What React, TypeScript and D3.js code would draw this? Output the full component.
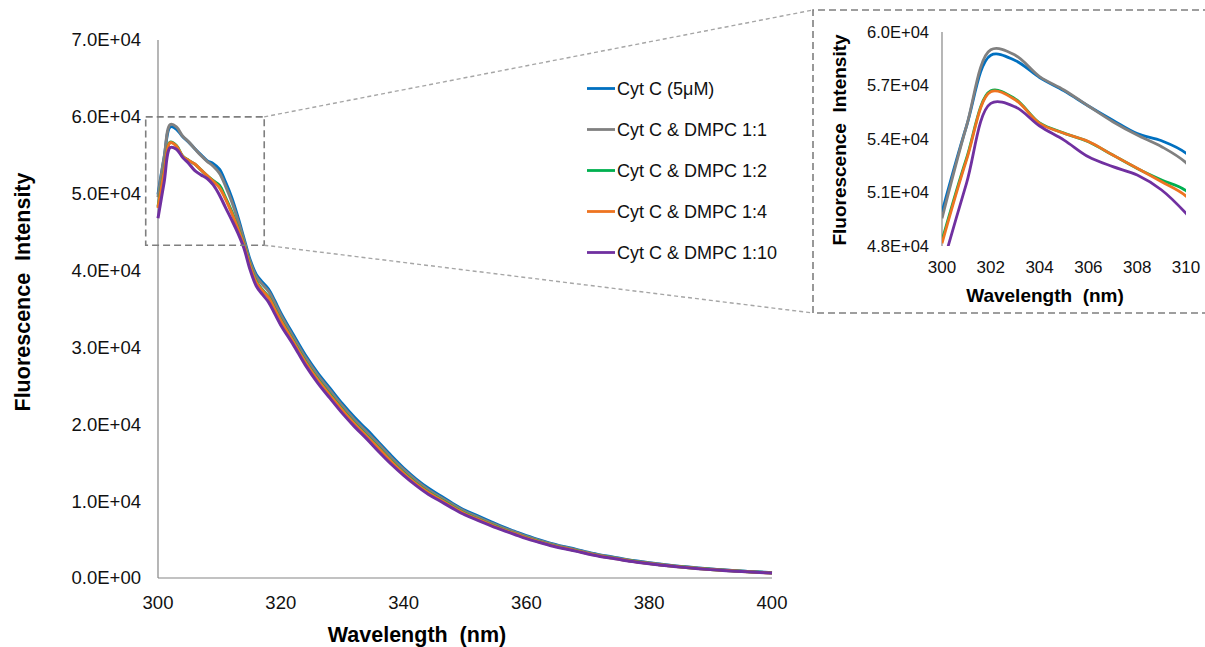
import React from "react";
import * as d3 from "d3";

const wavelengths = [
  300, 301, 302, 303, 304, 305, 306, 307, 308, 309, 310, 311, 312, 313, 314, 315, 316, 317, 318, 319, 320,
  322, 324, 326, 328, 330, 332, 334, 336, 338, 340, 342, 344, 346, 348, 350, 352, 354, 356, 358, 360,
  362, 364, 366, 368, 370, 372, 374, 376, 378, 380, 382, 384, 386, 388, 390, 392, 394, 396, 398, 400,
];

const cytC = [
  49900, 54700, 58700, 58400, 57450, 56700, 55850, 55050, 54300, 53900, 53200, 51500, 49500, 47000, 44200, 41400, 39500, 38500, 37600, 36100, 34500,
  31700, 29000, 26700, 24700, 22700, 20900, 19300, 17600, 15900, 14300, 12900, 11700, 10700, 9700, 8800, 8100, 7400, 6700, 6100, 5500,
  5000, 4500, 4100, 3750, 3350, 3000, 2750, 2450, 2200, 1980, 1780, 1600, 1450, 1300, 1180, 1060, 950, 860, 770, 690,
];
const dmpc11 = [
  49550, 54700, 59000, 58700, 57500, 56750, 55850, 54970, 54220, 53570, 52670, 51000, 49000, 46600, 43900, 41100, 39200, 38200, 37300, 35800, 34200,
  31400, 28700, 26400, 24400, 22400, 20600, 19000, 17350, 15650, 14100, 12700, 11500, 10500, 9550, 8650, 7950, 7250, 6580, 6000, 5400,
  4900, 4420, 4030, 3680, 3300, 2950, 2700, 2400, 2160, 1950, 1750, 1570, 1420, 1280, 1160, 1040, 935, 845, 760, 680,
];
const dmpc12 = [
  48300, 52900, 56700, 56250, 54900, 54330, 53850, 53100, 52350, 51700, 51100, 49500, 47700, 45600, 43400, 40700, 38600, 37500, 36600, 35100, 33600,
  30900, 28200, 25900, 23900, 21950, 20150, 18550, 16900, 15250, 13700, 12350, 11200, 10250, 9300, 8400, 7720, 7050, 6400, 5820, 5250,
  4770, 4300, 3920, 3580, 3200, 2870, 2630, 2340, 2100, 1890, 1700, 1530, 1380, 1240, 1120, 1010, 905, 820, 735, 660,
];
const dmpc14 = [
  48150, 52800, 56650, 56200, 54880, 54320, 53860, 53100, 52360, 51600, 50800, 49300, 47500, 45500, 43300, 40600, 38500, 37400, 36500, 35000, 33500,
  30800, 28100, 25800, 23800, 21850, 20050, 18450, 16800, 15150, 13620, 12280, 11130, 10180, 9240, 8350, 7680, 7010, 6360, 5790, 5220,
  4740, 4280, 3900, 3560, 3180, 2850, 2610, 2330, 2090, 1880, 1690, 1520, 1370, 1230, 1110, 1000, 900, 815, 730, 655,
];
const dmpc110 = [
  46800, 51500, 56000, 55800, 54730, 53940, 53000, 52450, 51980, 51140, 49830, 48200, 46600, 44900, 42900, 40100, 38000, 36900, 35900, 34400, 32900,
  30400, 27700, 25400, 23400, 21450, 19700, 18100, 16400, 14800, 13350, 12050, 10900, 9980, 9060, 8200, 7540, 6880, 6250, 5690, 5120,
  4650, 4200, 3830, 3500, 3130, 2800, 2570, 2290, 2060, 1850, 1660, 1500, 1350, 1210, 1090, 985, 885, 800, 720, 640,
];

const seriesNames = ["Cyt C (5μM)", "Cyt C & DMPC 1:1", "Cyt C & DMPC 1:2", "Cyt C & DMPC 1:4", "Cyt C & DMPC 1:10"];
const seriesValues = [cytC, dmpc11, dmpc12, dmpc14, dmpc110];
const seriesColors = ["#0070C0", "#808080", "#00B050", "#EE7421", "#7030A0"];

const mainYTicks = [0, 10000, 20000, 30000, 40000, 50000, 60000, 70000];
const mainXTicks = [300, 320, 340, 360, 380, 400];
const insetYTicks = [48000, 51000, 54000, 57000, 60000];
const insetXTicks = [300, 302, 304, 306, 308, 310];

// Excel style "6.0E+04"
const fmtExp = (v: number) => {
  const e = v === 0 ? 0 : Math.floor(Math.log10(v));
  const m = v / Math.pow(10, e);
  return `${m.toFixed(1)}E+${String(e).padStart(2, "0")}`;
};

const FONT = "Arial, 'Liberation Sans', sans-serif";
const AXIS = "#868686";
const TXT = "#111";

export default function App() {
  const x = d3.scaleLinear().domain([300, 400]).range([158, 772]);
  const y = d3.scaleLinear().domain([0, 70000]).range([578, 40]);

  const xi = d3.scaleLinear().domain([300, 310]).range([942, 1186]);
  const yi = d3.scaleLinear().domain([48000, 60000]).range([246, 32]);

  const mainLine = d3
    .line<number>()
    .x((_, i) => x(wavelengths[i]))
    .y((d) => y(d))
    .curve(d3.curveCatmullRom.alpha(0.5));

  // only the points needed for the zoomed view
  const insetIdx = wavelengths.map((_, i) => i).filter((i) => wavelengths[i] <= 311);

  // zoom box on main chart
  const bx0 = x(298), bx1 = x(317.3);
  const by0 = y(60000), by1 = y(43300);

  return (
    <svg width={1205} height={647} style={{ position: "absolute", left: 0, top: 0, background: "#fff" }} fontFamily={FONT}>
      <defs>
        <clipPath id="insetClip">
          <rect x={xi(300)} y={yi(60000)} width={xi(310) - xi(300)} height={yi(48000) - yi(60000)} />
        </clipPath>
      </defs>

      {/* main axes */}
      <line x1={x(300)} x2={x(300)} y1={y(70000)} y2={y(0)} stroke={AXIS} strokeWidth={1.2} />
      <line x1={x(300)} x2={x(400)} y1={y(0)} y2={y(0)} stroke={AXIS} strokeWidth={1.2} />
      {mainYTicks.map((t) => (
        <text key={t} x={141} y={y(t)} dy="0.35em" textAnchor="end" fontSize={18.5} fill={TXT}>
          {fmtExp(t)}
        </text>
      ))}
      {mainXTicks.map((t) => (
        <text key={t} x={x(t)} y={603} dy="0.35em" textAnchor="middle" fontSize={18.5} fill={TXT}>
          {t}
        </text>
      ))}
      <text x={417} y={634} dy="0.35em" textAnchor="middle" fontSize={21.5} fontWeight="bold" xmlSpace="preserve">
        Wavelength  (nm)
      </text>
      <text transform={`translate(22,292) rotate(-90)`} dy="0.35em" textAnchor="middle" fontSize={21.5} fontWeight="bold" xmlSpace="preserve">
        Fluorescence  Intensity
      </text>

      {/* main lines */}
      {seriesValues.map((vals, s) => (
        <path key={s} d={mainLine(vals) || ""} fill="none" stroke={seriesColors[s]} strokeWidth={3} strokeLinejoin="round" />
      ))}

      {/* zoom box + connectors */}
      <rect x={bx0} y={by0} width={bx1 - bx0} height={by1 - by0} fill="none" stroke="#7f7f7f" strokeWidth={1.6} strokeDasharray="7,4" />
      <line x1={bx1} y1={by0} x2={813} y2={10} stroke="#a6a6a6" strokeWidth={1.4} strokeDasharray="4,3" />
      <line x1={bx1} y1={by1} x2={813} y2={313} stroke="#a6a6a6" strokeWidth={1.4} strokeDasharray="4,3" />

      {/* legend */}
      {seriesNames.map((n, s) => {
        const ly = 88.5 + s * 41;
        return (
          <g key={n}>
            <line x1={587} x2={615} y1={ly} y2={ly} stroke={seriesColors[s]} strokeWidth={2.8} />
            <text x={617} y={ly} dy="0.35em" fontSize={18} fill={TXT}>
              {n}
            </text>
          </g>
        );
      })}

      {/* inset */}
      <path d={`M1210,10 H813 V313 H1210`} fill="none" stroke="#7f7f7f" strokeWidth={1.6} strokeDasharray="7,4" />
      <line x1={xi(300)} x2={xi(300)} y1={yi(60000)} y2={yi(48000)} stroke={AXIS} strokeWidth={1.2} />
      {insetYTicks.map((t) => (
        <text key={t} x={929} y={yi(t)} dy="0.35em" textAnchor="end" fontSize={16.5} fill={TXT}>
          {fmtExp(t)}
        </text>
      ))}
      {insetXTicks.map((t) => (
        <text key={t} x={xi(t)} y={267} dy="0.35em" textAnchor="middle" fontSize={17} fill={TXT}>
          {t}
        </text>
      ))}
      <text x={1045} y={295} dy="0.35em" textAnchor="middle" fontSize={19} fontWeight="bold" xmlSpace="preserve">
        Wavelength  (nm)
      </text>
      <text transform={`translate(839,140) rotate(-90)`} dy="0.35em" textAnchor="middle" fontSize={19} fontWeight="bold" xmlSpace="preserve">
        Fluorescence  Intensity
      </text>
      <g clipPath="url(#insetClip)">
        {seriesValues.map((vals, s) => {
          const gen = d3
            .line<number>()
            .x((i) => xi(wavelengths[i]))
            .y((i) => yi(vals[i]))
            .curve(d3.curveCatmullRom.alpha(0.5));
          return <path key={s} d={gen(insetIdx) || ""} fill="none" stroke={seriesColors[s]} strokeWidth={2.8} strokeLinejoin="round" />;
        })}
      </g>
    </svg>
  );
}
